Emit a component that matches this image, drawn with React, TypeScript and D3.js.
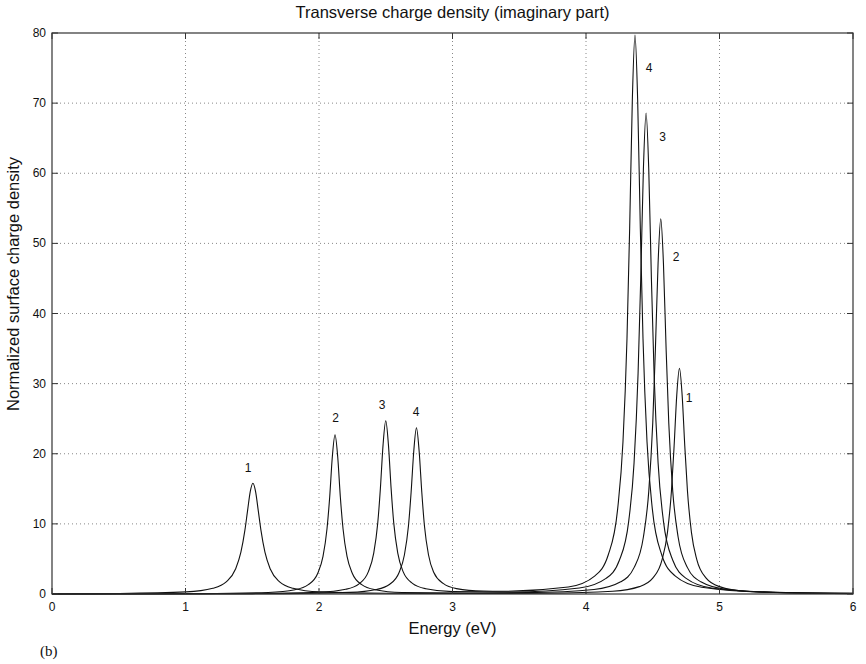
import React from "react";
import * as d3 from "d3";

// Curve samples: [energy (eV), normalized density]
const curve1: [number, number][] = [
  [0, 0.03], [0.505, 0.08], [1.005, 0.3], [1.205, 0.82], [1.305, 1.72], [1.375, 3.56], [1.415, 5.96],
  [1.445, 9.1], [1.465, 11.9], [1.485, 14.6], [1.505, 15.8], [1.525, 14.6], [1.545, 11.9], [1.565, 9.1],
  [1.595, 5.96], [1.635, 3.56], [1.705, 1.72], [1.805, 0.82], [2.005, 0.3], [2.505, 0.1], [3.2, 0.07],
  [3.7, 0.11], [4.2, 0.4], [4.4, 1.05], [4.5, 2.26], [4.57, 4.89], [4.61, 8.76], [4.64, 14.7], [4.66, 21.1],
  [4.68, 28.4], [4.7, 32.2], [4.72, 28.4], [4.74, 21.1], [4.76, 14.7], [4.79, 8.76], [4.83, 4.89],
  [4.9, 2.26], [5.0, 1.05], [5.2, 0.39], [5.7, 0.1], [6.0, 0.06],
];
const curve2: [number, number][] = [
  [0, 0.01], [1.12, 0.06], [1.62, 0.22], [1.82, 0.61], [1.92, 1.33], [1.99, 2.93], [2.03, 5.36],
  [2.06, 9.3], [2.08, 13.8], [2.1, 19.6], [2.12, 22.7], [2.14, 19.6], [2.16, 13.8], [2.18, 9.3],
  [2.21, 5.36], [2.25, 2.93], [2.32, 1.33], [2.42, 0.61], [2.62, 0.22], [3.12, 0.13], [3.56, 0.19],
  [4.06, 0.65], [4.26, 1.74], [4.36, 3.76], [4.43, 8.13], [4.47, 14.6], [4.5, 24.4], [4.52, 35.0],
  [4.54, 47.2], [4.56, 53.5], [4.58, 47.2], [4.6, 35.0], [4.62, 24.4], [4.65, 14.6], [4.69, 8.13],
  [4.76, 3.76], [4.86, 1.74], [5.06, 0.64], [5.56, 0.16], [6.0, 0.08],
];
const curve3: [number, number][] = [
  [0, 0.01], [1.5, 0.06], [2.0, 0.24], [2.2, 0.67], [2.3, 1.45], [2.37, 3.19], [2.41, 5.83],
  [2.44, 10.1], [2.46, 15.1], [2.48, 21.3], [2.5, 24.7], [2.52, 21.3], [2.54, 15.1], [2.56, 10.1],
  [2.59, 5.83], [2.63, 3.19], [2.7, 1.52], [2.8, 0.75], [3.0, 0.34], [3.45, 0.28], [3.95, 0.85],
  [4.15, 2.23], [4.25, 4.82], [4.32, 10.4], [4.36, 18.7], [4.39, 31.4], [4.41, 44.9], [4.43, 60.6],
  [4.45, 68.6], [4.47, 60.6], [4.49, 44.9], [4.51, 31.4], [4.54, 18.7], [4.58, 10.4], [4.65, 4.82],
  [4.75, 2.23], [4.95, 0.82], [5.45, 0.21], [6.0, 0.09],
];
const curve4: [number, number][] = [
  [0, 0.01], [1.73, 0.06], [2.23, 0.23], [2.43, 0.64], [2.53, 1.39], [2.6, 3.06], [2.64, 5.6],
  [2.67, 9.7], [2.69, 14.5], [2.71, 20.4], [2.73, 23.7], [2.75, 20.4], [2.77, 14.5], [2.79, 9.7],
  [2.82, 5.6], [2.86, 3.06], [2.93, 1.51], [3.03, 0.77], [3.23, 0.42], [3.37, 0.39], [3.867, 1.0],
  [4.067, 2.59], [4.167, 5.6], [4.237, 12.1], [4.277, 21.7], [4.307, 36.4], [4.327, 52.1],
  [4.347, 70.4], [4.367, 79.7], [4.387, 70.4], [4.407, 52.1], [4.427, 36.4], [4.457, 21.7],
  [4.497, 12.1], [4.567, 5.6], [4.667, 2.59], [4.867, 0.96], [5.367, 0.24], [6.0, 0.09],
];
const curves = [curve1, curve2, curve3, curve4];

// Peak labels: [energy, value, text]
const peakLabels: [number, number, string][] = [
  [1.468, 18.0, "1"], [2.125, 25.1, "2"], [2.472, 27.0, "3"], [2.727, 26.0, "4"],
  [4.472, 75.0, "4"], [4.574, 65.1, "3"], [4.674, 48.1, "2"], [4.772, 28.0, "1"],
];

const xTicks = [0, 1, 2, 3, 4, 5, 6];
const yTicks = [0, 10, 20, 30, 40, 50, 60, 70, 80];

const title = "Transverse charge density (imaginary part)";
const xLabel = "Energy (eV)";
const yLabel = "Normalized surface charge density";
const panelTag = "(b)";

const W = 866, H = 664;
const L = 52, R = 853, T = 33, B = 594;
const FONT = "'Liberation Sans', Arial, Helvetica, sans-serif";

export default function App() {
  const x = d3.scaleLinear().domain([0, 6]).range([L, R]);
  const y = d3.scaleLinear().domain([0, 80]).range([B, T]);
  const line = d3
    .line<[number, number]>()
    .x((d) => x(d[0]))
    .y((d) => y(d[1]))
    .curve(d3.curveMonotoneX);
  const axisColor = "#333";
  const gridColor = "#888";
  return (
    <svg width={W} height={H} style={{ position: "absolute", left: 0, top: 0, background: "#fff" }}>
      <rect x={0} y={0} width={W} height={H} fill="#fff" />
      {/* grid */}
      {xTicks.slice(1, -1).map((t) => (
        <line key={"gx" + t} x1={x(t)} x2={x(t)} y1={T} y2={B} stroke={gridColor} strokeWidth={1} strokeDasharray="1,3" />
      ))}
      {yTicks.slice(1, -1).map((t) => (
        <line key={"gy" + t} x1={L} x2={R} y1={y(t)} y2={y(t)} stroke={gridColor} strokeWidth={1} strokeDasharray="1,3" />
      ))}
      {/* curves */}
      {curves.map((c, i) => (
        <path key={"c" + i} d={line(c) || ""} fill="none" stroke="#111" strokeWidth={1.1} />
      ))}
      {/* frame */}
      <rect x={L} y={T} width={R - L} height={B - T} fill="none" stroke={axisColor} strokeWidth={1.2} />
      {/* ticks */}
      {xTicks.map((t) => (
        <g key={"tx" + t}>
          <line x1={x(t)} x2={x(t)} y1={B} y2={B - 6} stroke={axisColor} />
          <line x1={x(t)} x2={x(t)} y1={T} y2={T + 6} stroke={axisColor} />
          <text x={x(t)} y={611} textAnchor="middle" fontFamily={FONT} fontSize={12} fill="#111">
            {t}
          </text>
        </g>
      ))}
      {yTicks.map((t) => (
        <g key={"ty" + t}>
          <line x1={L} x2={L + 6} y1={y(t)} y2={y(t)} stroke={axisColor} />
          <line x1={R} x2={R - 6} y1={y(t)} y2={y(t)} stroke={axisColor} />
          <text x={46} y={y(t) + 4} textAnchor="end" fontFamily={FONT} fontSize={12} fill="#111">
            {t}
          </text>
        </g>
      ))}
      {/* peak labels */}
      {peakLabels.map(([e, v, s], i) => (
        <text key={"pl" + i} x={x(e)} y={y(v) + 4} textAnchor="middle" fontFamily={FONT} fontSize={12} fill="#111">
          {s}
        </text>
      ))}
      <text x={(L + R) / 2} y={18} textAnchor="middle" fontFamily={FONT} fontSize={16.5} fill="#111">
        {title}
      </text>
      <text x={(L + R) / 2} y={634} textAnchor="middle" fontFamily={FONT} fontSize={16.5} fill="#111">
        {xLabel}
      </text>
      <text
        transform={`translate(19, 284) rotate(-90)`}
        textAnchor="middle"
        fontFamily={FONT}
        fontSize={16.5}
        fill="#111"
      >
        {yLabel}
      </text>
      <text x={40} y={656} fontFamily="'Liberation Serif', 'Times New Roman', serif" fontSize={15} fill="#111">
        {panelTag}
      </text>
    </svg>
  );
}
